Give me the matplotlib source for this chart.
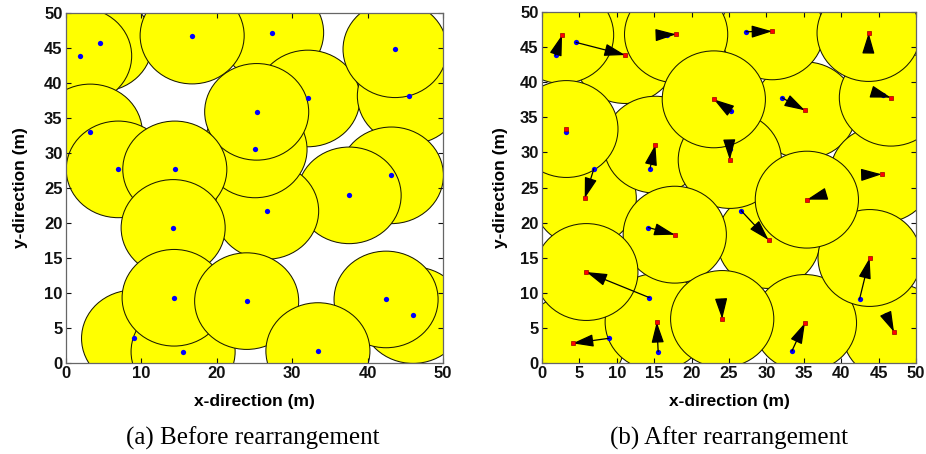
import matplotlib
matplotlib.use('Agg')
import matplotlib.pyplot as plt
from matplotlib.patches import Circle
import numpy as np

# sensing radius (m)
R = 6.9

# original sensor positions (blue)
bx = [1.81, 4.55, 16.73, 27.27, 43.64, 45.54, 32.08, 25.29, 3.22, 25.07, 6.93, 14.43,
      43.16, 37.55, 26.61, 14.21, 14.34, 23.96, 42.45, 46.03, 8.96, 15.53, 33.41]
by = [43.87, 45.67, 46.77, 47.19, 44.82, 38.16, 37.79, 35.88, 32.94, 30.51, 27.66, 27.66,
      26.81, 23.95, 21.72, 19.30, 9.32, 8.84, 9.08, 6.84, 3.52, 1.62, 1.71]

# rearranged sensor positions (red)
rx = [2.68, 11.11, 17.93, 30.78, 43.67, 46.65, 35.15, 22.97, 3.26, 25.11, 5.71, 15.16,
      45.41, 35.41, 30.29, 17.75, 5.93, 24.09, 43.80, 47.06, 4.10, 15.34, 35.15]
ry = [46.72, 43.87, 46.82, 47.25, 47.01, 37.80, 35.99, 37.56, 33.33, 28.92, 23.46, 31.10,
      26.88, 23.27, 17.52, 18.28, 12.96, 6.27, 14.96, 4.42, 2.80, 5.84, 5.70]

# drawing order of coverage discs
order_a = [1, 3, 2, 0, 8, 10, 6, 5, 4, 12, 13, 14, 9, 7, 11, 20, 21, 15, 16, 17, 19, 18, 22]
order_b = [10, 20, 14, 6, 12, 19, 1, 3, 5, 0, 11, 8, 9, 2, 4, 21, 22, 18, 15, 13, 7, 16, 17]

xticks_a = [0, 10, 20, 30, 40, 50]
xticks_b = [0, 5, 10, 15, 20, 25, 30, 35, 40, 45, 50]
yticks = [0, 5, 10, 15, 20, 25, 30, 35, 40, 45, 50]

plt.rcParams['font.family'] = ['Liberation Sans', 'DejaVu Sans']
plt.rcParams['font.weight'] = 'bold'

fig = plt.figure(figsize=(9.26, 4.54), dpi=100)
axa = fig.add_axes([66/926, 1-363/454, 377/926, 350/454])
axb = fig.add_axes([542/926, 1-363/454, 374/926, 351/454])

def disc_layer(ax, cx, cy, order):
    for i in order:
        ax.add_patch(Circle((cx[i], cy[i]), R, facecolor='#FFFF00',
                            edgecolor='#1a1a00', linewidth=0.75, zorder=1))

def style(ax, xt):
    ax.set_xlim(0, 50)
    ax.set_ylim(0, 50)
    ax.set_xticks(xt)
    ax.set_yticks(yticks)
    ax.tick_params(direction='in', top=True, right=True, length=3.5, width=0.8,
                   labelsize=12, pad=2.5, colors='#111111')
    for s in ax.spines.values():
        s.set_color('#666666')
        s.set_linewidth(0.9)
        s.set_zorder(10)
    ax.set_xlabel('x-direction (m)', fontsize=12.5, fontweight='bold')
    ax.set_ylabel('y-direction (m)', fontsize=12.5, fontweight='bold')

# (a) before
disc_layer(axa, bx, by, order_a)
axa.plot(bx, by, 'o', color='#0000FF', markersize=3.8, markeredgewidth=0, zorder=3)
style(axa, xticks_a)
axa.xaxis.set_label_coords(0.5, -0.088)
axa.yaxis.set_label_coords(-0.101, 0.5)

# (b) after
disc_layer(axb, rx, ry, order_b)
axb.plot(bx, by, 'o', color='#0000FF', markersize=3.8, markeredgewidth=0, zorder=3)
for i in range(len(bx)):
    d = np.hypot(rx[i]-bx[i], ry[i]-by[i])
    if d < 0.5:
        continue
    axb.annotate('', xy=(rx[i], ry[i]), xytext=(bx[i], by[i]),
                 arrowprops=dict(arrowstyle='-|>,head_length=0.4,head_width=0.12',
                                 mutation_scale=32, color='black', lw=0.9,
                                 shrinkA=0, shrinkB=0), zorder=4)
axb.plot(rx, ry, 's', color='#FF0000', markersize=3.2, markeredgecolor='#990000',
         markeredgewidth=0.5, zorder=5)
style(axb, xticks_b)
axb.xaxis.set_label_coords(0.5, -0.088)
axb.yaxis.set_label_coords(-0.091, 0.5)

fig.text(253/926, 1-438/454, '(a) Before rearrangement', family='Liberation Serif',
         fontweight='normal', fontsize=18, ha='center', va='center')
fig.text(729/926, 1-438/454, '(b) After rearrangement', family='Liberation Serif',
         fontweight='normal', fontsize=18, ha='center', va='center')

fig.savefig('out.png', dpi=100)
